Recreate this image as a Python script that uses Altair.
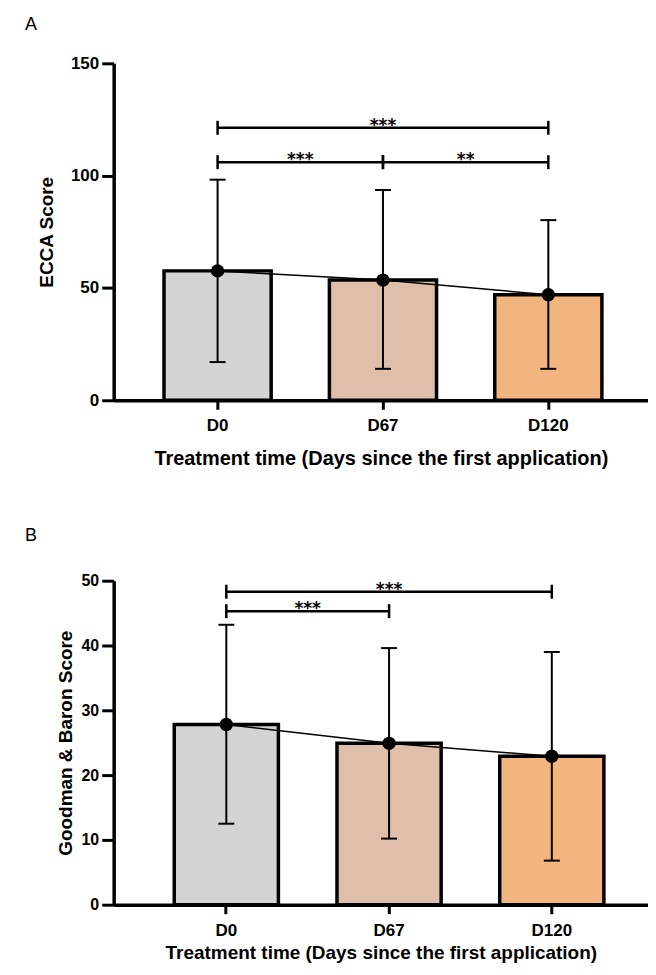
import altair as alt
import pandas as pd

# ---------------- data ----------------
categories = ["D0", "D67", "D120"]
bar_colors = ["#d4d4d4", "#dfbfaa", "#f3b580"]

# Panel A: ECCA score
ecca_mean = [57.6, 53.5, 47.0]
ecca_lower = [17.0, 14.0, 14.0]
ecca_upper = [98.2, 93.6, 80.2]
ecca_brk_from = ["D0", "D0", "D67"]
ecca_brk_to = ["D120", "D67", "D120"]
ecca_brk_y = [121.3, 106.0, 106.0]
ecca_brk_lab = ["***", "***", "**"]
ecca_ticks = [0, 50, 100, 150]

# Panel B: Goodman & Baron score
gb_mean = [27.8, 24.9, 22.9]
gb_lower = [12.5, 10.2, 6.8]
gb_upper = [43.2, 39.6, 39.0]
gb_brk_from = ["D0", "D0"]
gb_brk_to = ["D120", "D67"]
gb_brk_y = [48.3, 45.3]
gb_brk_lab = ["***", "***"]
gb_ticks = [0, 10, 20, 30, 40, 50]

XTITLE = "Treatment time (Days since the first application)"
FONT = "Liberation Sans"


def panel(letter, title_dx, title_offset, ytitle, means, lower, upper, ymax, yticks,
          brk_from, brk_to, brk_y, brk_lab, width, height, pin, pout, palign,
          ylabel_size, ytitle_pad, xtitle_size, xlabel_pad, xtitle_pad):
    idx = list(range(len(categories)))
    df = pd.DataFrame({"cat": categories, "mean": means, "lo": lower, "hi": upper,
                       "color": bar_colors, "idx": idx})
    caps = pd.DataFrame({"cat": categories * 2, "v": lower + upper})
    br = pd.DataFrame({"from": brk_from, "to": brk_to, "y": brk_y, "lab": brk_lab})
    ends = pd.DataFrame({"cat": brk_from + brk_to, "y": brk_y * 2})

    xscale = alt.Scale(domain=categories, paddingInner=pin, paddingOuter=pout, align=palign)
    xaxis = alt.Axis(title=XTITLE, labelAngle=0, tickSize=9, tickWidth=3,
                     labelPadding=xlabel_pad, labelFontSize=17, titleFontSize=xtitle_size,
                     titlePadding=xtitle_pad, domainWidth=3.5)
    yscale = alt.Scale(domain=[0, ymax], nice=False, zero=True)
    yaxis = alt.Axis(title=ytitle, values=yticks, tickSize=12, tickWidth=3,
                     labelPadding=3, labelFontSize=ylabel_size, titleFontSize=19,
                     titlePadding=ytitle_pad, domainWidth=3.5)

    def X(field, **kw):
        return alt.X(f"{field}:N", scale=xscale, axis=xaxis, **kw)

    def Y(field):
        return alt.Y(f"{field}:Q", scale=yscale, axis=yaxis)

    step = width / (len(categories) - pin + 2 * pout)
    half_gap = step * pin / 2

    bars = alt.Chart(df).mark_bar(stroke="black", strokeWidth=3.5).encode(
        x=X("cat"), y=Y("mean"), fill=alt.Fill("color:N", scale=None))
    line = alt.Chart(df).mark_line(color="black", strokeWidth=1.5).encode(
        x=X("cat"), y=Y("mean"), order=alt.Order("idx:Q"))
    err = alt.Chart(df).mark_rule(color="black", strokeWidth=2).encode(
        x=X("cat"), y=Y("lo"), y2="hi")
    cap = alt.Chart(caps).mark_tick(color="black", thickness=2, size=16, opacity=1).encode(
        x=X("cat"), y=Y("v"))
    pts = alt.Chart(df).mark_circle(color="black", size=180, opacity=1).encode(
        x=X("cat"), y=Y("mean"))
    brk = alt.Chart(br).mark_rule(color="black", strokeWidth=2.5).encode(
        x=X("from"), x2="to", y=Y("y"))
    brk_ends = alt.Chart(ends).mark_point(shape="M0,-1L0,1", size=196, filled=False,
                                          color="black", strokeWidth=2.5, opacity=1).encode(
        x=X("cat"), y=Y("y"))
    layers = [bars, line, err, cap, pts, brk, brk_ends]
    for k in range(len(brk_from)):
        i0 = categories.index(brk_from[k])
        i1 = categories.index(brk_to[k])
        txt = dict(font="DejaVu Sans", fontWeight="bold", fontSize=17,
                   baseline="alphabetic", dy=3, color="black")
        if (i1 - i0) % 2 == 0:
            mid = categories[(i0 + i1) // 2]
            sub = pd.DataFrame({"cat": [mid], "y": [brk_y[k]], "lab": [brk_lab[k]]})
            layers.append(alt.Chart(sub).mark_text(**txt).encode(
                x=X("cat"), y=Y("y"), text="lab:N"))
        else:
            left = categories[(i0 + i1) // 2]
            sub = pd.DataFrame({"cat": [left], "y": [brk_y[k]], "lab": [brk_lab[k]]})
            layers.append(alt.Chart(sub).mark_text(dx=half_gap, **txt).encode(
                x=X("cat", bandPosition=1), y=Y("y"), text="lab:N"))

    return alt.layer(*layers).properties(
        width=width, height=height,
        title=alt.Title(letter, anchor="start", frame="group", dx=title_dx,
                        offset=title_offset, fontSize=18, fontWeight="normal",
                        font=FONT, baseline="alphabetic", color="black"))


pa = panel("A", -89, 6, "ECCA Score", ecca_mean, ecca_lower, ecca_upper, 150, ecca_ticks,
           ecca_brk_from, ecca_brk_to, ecca_brk_y, ecca_brk_lab,
           536, 338, 0.352, 0.2916, 0.522, 17, 14, 20, 8, 15)
pb = panel("B", -89, 14, "Goodman & Baron Score", gb_mean, gb_lower, gb_upper, 50, gb_ticks,
           gb_brk_from, gb_brk_to, gb_brk_y, gb_brk_lab,
           536, 325, 0.36, 0.3216, 0.5786, 16, 6, 19, 9, 5)

chart = alt.concat(pa, pb, columns=1, spacing=59).properties(
    padding={"left": 17, "top": 7, "right": 0, "bottom": 0}
).configure_view(stroke=None).configure_axis(
    domainColor="black", tickColor="black", labelColor="black", titleColor="black",
    labelFont=FONT, titleFont=FONT, labelFontWeight="bold", titleFontWeight="bold",
    grid=False
)

chart.save("out.html", embed_options={"renderer": "svg", "actions": False})
